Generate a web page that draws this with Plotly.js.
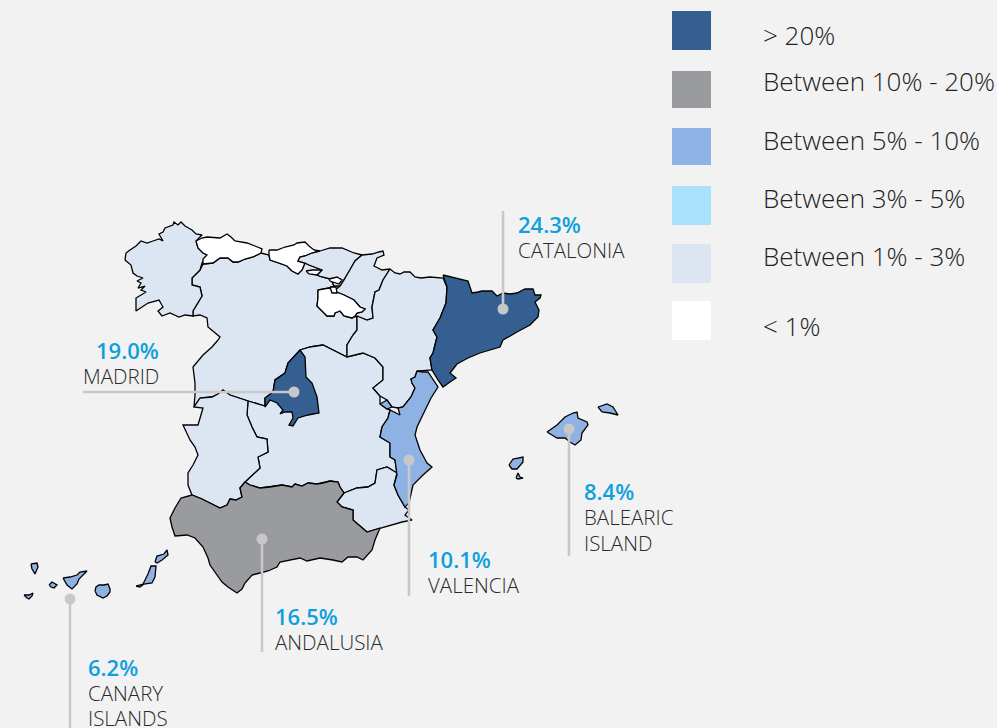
<!DOCTYPE html>
<html><head><meta charset="utf-8">
<script src="https://cdn.plot.ly/plotly-3.0.1.min.js"></script>
<style>html,body{margin:0;padding:0;background:#f2f2f2}#c{width:997px;height:728px}</style>
</head><body><div id="c"></div>
<script>
const COL = {over20:'#355f91', b10:'#9a9b9e', b5:'#8eb2e3', b3:'#a9e2fa', b1:'#dce6f2', under1:'#ffffff'};
const legendLabels = ['> 20%','Between 10% - 20%','Between 5% - 10%','Between 3% - 5%','Between 1% - 3%','< 1%'];
const legendColors = [COL.over20,COL.b10,COL.b5,COL.b3,COL.b1,COL.under1];
const legendBoxTop = [11,71,128,186,244,301];
const legendBoxBottom = [50,108,165,225,283,340];
const legendTextY = [35,81,140,198,256,326];

const galicia=[[125,260],[126,253],[130,250],[136,246],[141,241],[147,243],[153,241],[159,239],[163,241],[159,234],[163,232],[165,228],[173,225],[174,222],[178,225],[181,222],[185,226],[192,230],[196,234],[202,235],[196,241],[198,248],[203,253],[207,255],[202,263],[200,270],[195,275],[192,278],[192,285],[200,287],[202,296],[197,304],[193,311],[193,316],[185,315],[179,317],[170,313],[162,316],[158,311],[163,307],[159,300],[148,303],[142,307],[136,311],[136,298],[146,292],[141,290],[145,286],[138,288],[141,283],[137,281],[143,278],[137,276],[133,273],[131,265],[126,261]];
const asturias=[[196,241],[202,238],[207,237],[220,238],[227,234],[231,237],[235,241],[247,243],[255,246],[262,249],[261,253],[253,257],[245,259],[238,262],[233,262],[228,258],[220,258],[213,263],[203,264],[203,259],[207,255],[203,253],[198,248]];
const cantabria=[[269,250],[277,250],[285,247],[294,245],[297,243],[305,242],[309,246],[314,250],[320,251],[312,253],[305,256],[300,257],[298,261],[305,263],[302,270],[298,274],[292,271],[287,266],[279,263],[270,260],[269,255]];
const basque=[[320,251],[330,248],[342,248],[354,253],[362,255],[355,261],[350,270],[344,280],[340,286],[334,286],[331,279],[322,277],[317,275],[322,270],[316,268],[309,265],[305,263],[298,261],[300,257],[305,256],[312,253]];
const villaverde=[[306,271],[312,270],[322,270],[317,275],[309,274]];
const trevino=[[329,279],[337,277],[342,280],[339,284],[330,281]];
const trevinoSmall=[[330,287],[336,287],[337,293],[332,293]];
const rioja=[[318,290],[329,288],[334,291],[344,295],[354,300],[360,307],[365,309],[362,312],[357,313],[355,316],[352,318],[344,316],[340,311],[335,313],[334,316],[327,316],[324,313],[317,306],[318,298]];
const navarra=[[362,255],[372,254],[379,252],[383,251],[384,255],[377,258],[374,266],[382,270],[390,269],[383,280],[379,290],[375,292],[372,307],[373,318],[367,320],[357,316],[355,316],[357,313],[362,312],[365,309],[360,307],[354,300],[344,295],[334,291],[340,286],[344,280],[350,270],[355,261]];
const aragon=[[390,269],[395,273],[400,274],[404,272],[410,272],[415,277],[421,278],[430,277],[443,278],[447,287],[446,303],[440,318],[433,330],[437,337],[435,345],[433,353],[430,358],[432,370],[417,371],[415,377],[411,379],[412,383],[415,388],[411,397],[407,402],[403,407],[398,408],[392,407],[387,400],[380,396],[373,388],[383,380],[383,367],[375,358],[363,353],[347,357],[347,345],[353,335],[357,330],[357,316],[367,320],[373,318],[372,307],[375,292],[379,290],[383,280]];
const catalonia=[[443,275],[452,277],[460,279],[468,281],[470,287],[472,293],[478,292],[482,291],[492,291],[497,296],[503,293],[510,294],[517,293],[525,289],[533,289],[535,295],[541,295],[540,298],[535,302],[539,310],[538,317],[530,325],[517,332],[503,340],[500,347],[490,350],[480,353],[468,358],[457,364],[450,373],[456,378],[450,382],[443,387],[438,380],[432,370],[430,358],[433,353],[435,345],[437,337],[433,330],[440,318],[446,303],[447,287]];
const valencia=[[417,371],[423,372],[428,372],[438,387],[431,398],[425,410],[417,427],[415,435],[420,450],[427,463],[432,467],[423,475],[413,485],[409,503],[405,507],[398,495],[394,485],[397,475],[395,460],[390,457],[390,443],[380,437],[382,427],[388,418],[390,410],[400,415],[398,408],[403,407],[407,402],[411,397],[415,388],[412,383],[411,379],[415,377]];
const rincon=[[380,404],[387,400],[392,407],[387,409]];
const murcia=[[337,502],[344,493],[357,488],[368,487],[375,483],[377,470],[387,467],[397,473],[394,485],[398,495],[405,507],[409,510],[405,515],[412,520],[402,522],[380,528],[367,532],[353,520],[353,510],[342,507]];
const andalusia=[[245,482],[250,485],[260,488],[270,487],[282,485],[292,487],[295,484],[302,486],[308,483],[317,484],[323,483],[330,481],[338,482],[340,487],[344,493],[337,502],[342,507],[353,510],[353,520],[367,532],[380,528],[375,540],[372,550],[363,560],[357,557],[348,557],[342,562],[333,560],[320,558],[307,561],[300,558],[288,560],[280,562],[277,567],[268,571],[260,573],[252,575],[245,583],[242,589],[237,593],[228,587],[222,582],[215,572],[210,565],[208,558],[203,547],[195,538],[187,535],[175,536],[172,527],[170,518],[175,508],[181,498],[192,495],[202,499],[212,504],[220,508],[227,505],[230,499],[236,500],[242,497],[240,488]];
const extremadura=[[200,398],[212,397],[218,394],[223,390],[230,395],[238,398],[248,401],[247,415],[252,427],[257,437],[267,439],[268,452],[258,457],[260,468],[245,482],[240,488],[242,497],[236,500],[230,499],[227,505],[220,508],[212,504],[202,499],[192,495],[188,485],[188,473],[193,465],[198,455],[195,447],[190,440],[186,432],[183,425],[198,425],[203,408],[194,407]];
const castileLeon=[[203,264],[213,263],[220,258],[228,258],[233,262],[238,262],[245,259],[253,257],[261,253],[269,255],[270,260],[279,263],[287,266],[292,271],[298,274],[302,270],[305,263],[309,265],[316,268],[322,270],[317,275],[322,277],[331,279],[334,286],[329,288],[318,290],[318,298],[317,306],[324,313],[327,316],[334,316],[335,313],[340,311],[344,316],[352,318],[357,316],[357,330],[353,335],[347,345],[347,357],[337,352],[323,345],[310,347],[300,350],[288,363],[285,373],[275,380],[273,392],[265,398],[265,406],[248,401],[238,398],[230,395],[223,390],[218,394],[212,397],[200,398],[194,407],[195,395],[195,383],[193,367],[203,355],[212,347],[218,340],[220,337],[208,327],[207,318],[200,315],[193,316],[193,311],[197,304],[202,296],[200,287],[192,285],[192,278],[195,275],[200,270]];
const castileMancha=[[300,350],[310,347],[323,345],[337,352],[347,357],[363,353],[375,358],[383,367],[383,380],[373,388],[380,396],[380,404],[387,409],[390,410],[388,418],[382,427],[380,437],[390,443],[390,457],[395,460],[397,473],[387,467],[377,470],[375,483],[368,487],[357,488],[344,493],[340,487],[338,482],[330,481],[323,483],[317,484],[308,483],[302,486],[295,484],[292,487],[282,485],[270,487],[260,488],[250,485],[245,482],[260,468],[258,457],[268,452],[267,439],[257,437],[252,427],[247,415],[248,401],[265,406],[273,392]];
const madrid=[[300,350],[305,357],[306,377],[312,383],[317,397],[319,413],[308,415],[298,418],[293,426],[289,425],[293,418],[292,412],[285,412],[280,414],[283,410],[277,403],[270,400],[265,407],[265,398],[273,392],[275,380],[285,373],[288,363]];
const mallorca=[[547,432],[557,425],[565,417],[573,413],[577,412],[578,418],[587,422],[588,425],[582,433],[581,440],[575,445],[570,442],[565,438],[557,438],[552,435]];
const menorca=[[598,407],[607,404],[613,407],[618,415],[610,413],[602,412]];
const ibiza=[[509,465],[513,459],[523,457],[523,462],[517,469],[512,469]];
const formentera=[[516,478],[518,473],[520,477],[523,478],[518,479]];
const laPalma=[[31,564],[37,563],[38,567],[35,574],[32,569]];
const elHierro=[[24,595],[29,595],[33,593],[32,596],[29,599],[27,598]];
const laGomera=[[49,585],[52,582],[57,585],[54,588],[51,587]];
const tenerife=[[63,578],[70,577],[77,575],[80,572],[87,571],[83,575],[79,579],[77,584],[72,589],[67,585]];
const granCanaria=[[95,591],[96,587],[99,585],[104,585],[108,584],[110,589],[110,592],[107,596],[103,598],[97,595]];
const fuerteventura=[[136,586],[143,584],[148,574],[151,566],[156,566],[155,577],[152,583],[144,584],[140,587]];
const lanzarote=[[155,562],[157,556],[164,554],[167,550],[168,555],[162,560],[157,563]];

const regionShapes=[
 [castileLeon,COL.b1],[castileMancha,COL.b1],[galicia,COL.b1],[asturias,COL.under1],[cantabria,COL.under1],[basque,COL.b1],[navarra,COL.b1],[rioja,COL.under1],[villaverde,COL.under1],[trevino,COL.under1],[trevinoSmall,COL.under1],[aragon,COL.b1],[extremadura,COL.b1],[murcia,COL.b1],
 [andalusia,COL.b10],[valencia,COL.b5],[rincon,COL.b5],[catalonia,COL.over20],[madrid,COL.over20],
 [mallorca,COL.b5],[menorca,COL.b5],[ibiza,COL.b5],[formentera,COL.b5],
 [laPalma,COL.b5],[elHierro,COL.b5],[laGomera,COL.b5],[tenerife,COL.b5],[granCanaria,COL.b5],[fuerteventura,COL.b5],[lanzarote,COL.b5]
];

const calloutValues=['24.3%','19.0%','8.4%','10.1%','16.5%','6.2%'];
const calloutNames=[['CATALONIA'],['MADRID'],['BALEARIC','ISLAND'],['VALENCIA'],['ANDALUSIA'],['CANARY','ISLANDS']];
const calloutTextX=[516,161,582,426,273,86];
const calloutTextY=[224,350,491,559,616,667];
const calloutAnchor=['left','right','left','left','left','left'];
const leaderX=[[503,503],[83,294],[569,569],[409,409],[262,262],[70,70]];
const leaderY=[[211,309],[392,392],[429,556],[460,596],[539,652],[599,728]];

const close=a=>a.concat([a[0]]);
const traces=regionShapes.map(([p,c])=>({type:'scatter',mode:'lines',x:close(p).map(q=>q[0]),y:close(p).map(q=>q[1]),fill:'toself',fillcolor:c,line:{color:'#000000',width:1.3},hoverinfo:'skip',showlegend:false}));
leaderX.forEach((lx,i)=>{
 traces.push({type:'scatter',mode:'lines',x:lx,y:leaderY[i],line:{color:'#c8c8c8',width:2.6},hoverinfo:'skip',showlegend:false});
});
traces.push({type:'scatter',mode:'markers',x:[503,294,569,409,262,70],y:[309,392,429,460,539,599],marker:{size:11,color:'#c8c8c8'},hoverinfo:'skip',showlegend:false});

const FONT='"Open Sans","Noto Sans",sans-serif';
const annotations=[];
legendLabels.forEach((t,i)=>annotations.push({x:761,y:legendTextY[i],xref:'x',yref:'y',text:t,showarrow:false,xanchor:'left',yanchor:'middle',font:{family:FONT,size:26,color:'#222222',weight:300}}));
calloutValues.forEach((v,i)=>{
 annotations.push({x:calloutTextX[i],y:calloutTextY[i],xref:'x',yref:'y',text:v,showarrow:false,xanchor:calloutAnchor[i],yanchor:'middle',font:{family:FONT,size:22,color:'#0e9fdd',weight:600}});
 calloutNames[i].forEach((n,j)=>annotations.push({x:calloutTextX[i],y:calloutTextY[i]+26+26*j-(i===5&&j===1?1:0),xref:'x',yref:'y',text:n,showarrow:false,xanchor:calloutAnchor[i],yanchor:'middle',font:{family:FONT,size:20.5,color:'#2a2a2a',weight:300}}));
});
const shapes=legendColors.map((c,i)=>({type:'rect',xref:'x',yref:'y',x0:672,x1:711,y0:legendBoxTop[i],y1:legendBoxBottom[i],fillcolor:c,line:{width:0}}));

Plotly.newPlot('c',traces,{width:997,height:728,margin:{l:0,r:0,t:0,b:0},paper_bgcolor:'#f2f2f2',plot_bgcolor:'#f2f2f2',
 xaxis:{range:[0,997],visible:false,fixedrange:true},yaxis:{range:[728,0],visible:false,fixedrange:true},shapes,annotations,showlegend:false},{displayModeBar:false,staticPlot:true});
</script></body></html>
